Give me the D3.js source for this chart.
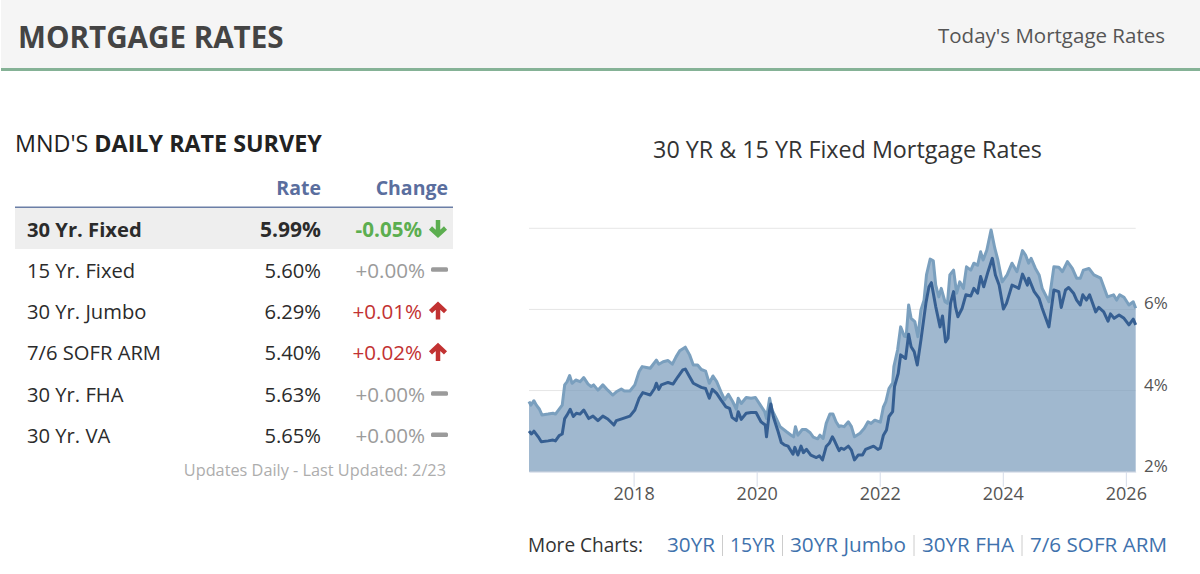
<!DOCTYPE html>
<html>
<head>
<meta charset="utf-8">
<script src="https://cdn.jsdelivr.net/npm/d3@7"></script>
<style>
  html, body { margin: 0; padding: 0; background: #fff; overflow: hidden; }
  text { font-family: "Open Sans", "Noto Sans", sans-serif; }
</style>
</head>
<body>
<svg id="page" width="1200" height="574"></svg>
<script>
// table data
const surveyLabels = ["30 Yr. Fixed", "15 Yr. Fixed", "30 Yr. Jumbo", "7/6 SOFR ARM", "30 Yr. FHA", "30 Yr. VA"];
const surveyRates = ["5.99%", "5.60%", "6.29%", "5.40%", "5.63%", "5.65%"];
const surveyChanges = ["-0.05%", "+0.00%", "+0.01%", "+0.02%", "+0.00%", "+0.00%"];
const moreLinks = ["30YR", "15YR", "30YR Jumbo", "30YR FHA", "7/6 SOFR ARM"];

// chart data (decimal year, percent)
const yearTicks = [2018, 2020, 2022, 2024, 2026];
const rateTicks = [2, 4, 6, 8];

const dates30 = [2016.30,2016.33,2016.38,2016.42,2016.47,2016.51,2016.61,2016.69,2016.73,2016.80,2016.84,2016.88,2016.92,2016.96,2017.00,2017.06,2017.13,2017.19,2017.26,2017.31,2017.35,2017.42,2017.50,2017.58,2017.66,2017.72,2017.80,2017.85,2017.94,2018.02,2018.09,2018.14,2018.21,2018.27,2018.31,2018.37,2018.41,2018.48,2018.56,2018.63,2018.69,2018.75,2018.84,2018.91,2018.97,2019.04,2019.10,2019.17,2019.23,2019.29,2019.35,2019.42,2019.48,2019.54,2019.61,2019.67,2019.70,2019.75,2019.83,2019.91,2019.98,2020.06,2020.13,2020.16,2020.21,2020.25,2020.32,2020.38,2020.48,2020.56,2020.60,2020.63,2020.67,2020.74,2020.80,2020.87,2020.92,2020.99,2021.03,2021.08,2021.13,2021.19,2021.24,2021.29,2021.34,
  2021.37,2021.42,2021.49,2021.54,2021.59,2021.68,2021.75,2021.81,2021.86,2021.92,2022.01,2022.06,2022.10,2022.15,2022.21,2022.23,2022.29,2022.34,2022.40,2022.43,2022.47,2022.51,2022.57,2022.62,2022.67,2022.72,2022.76,2022.82,2022.87,2022.91,2022.96,2023.00,2023.06,2023.10,2023.14,2023.20,2023.25,2023.30,2023.36,2023.41,2023.48,2023.53,2023.59,2023.64,2023.68,2023.74,2023.81,2023.87,2023.92,2023.99,2024.07,2024.15,2024.23,2024.32,2024.37,2024.42,2024.46,2024.53,2024.59,2024.64,2024.75,2024.83,2024.91,2024.97,2025.05,2025.13,2025.20,2025.26,2025.31,2025.40,2025.48,2025.59,2025.70,2025.80,2025.85,2025.90,2025.97,2026.05,2026.12,2026.16];
const rates30 = [3.73,3.64,3.75,3.64,3.54,3.40,3.42,3.44,3.42,3.56,3.64,4.14,4.22,4.37,4.18,4.26,4.22,4.32,4.16,4.10,4.14,4.01,4.14,4.01,3.89,3.97,4.04,3.99,3.99,4.14,4.47,4.59,4.57,4.55,4.63,4.75,4.65,4.71,4.74,4.65,4.83,4.98,5.07,4.88,4.63,4.63,4.52,4.48,4.18,4.36,4.22,3.97,3.77,3.91,3.73,3.54,3.81,3.68,3.83,3.81,3.83,3.64,3.48,3.31,3.81,3.52,3.31,3.11,2.99,2.90,2.86,3.11,2.90,3.04,3.04,2.96,2.85,2.81,2.90,2.82,3.19,3.42,3.42,3.23,3.11,
  3.13,3.11,3.23,3.11,2.86,2.95,3.07,3.23,3.19,3.27,3.22,3.60,3.73,4.05,4.19,4.59,5.00,5.57,5.34,5.33,6.11,5.78,5.70,5.33,5.99,6.23,6.85,7.24,7.20,6.60,6.31,6.52,6.19,6.15,6.85,6.97,6.40,6.68,6.52,7.05,6.97,7.14,7.09,7.42,7.22,7.46,7.96,7.51,7.22,6.68,6.85,7.14,6.93,7.45,7.34,7.14,7.26,7.01,6.85,6.52,6.19,7.05,7.04,6.93,7.18,7.01,6.77,6.77,6.97,7.01,6.85,6.77,6.31,6.36,6.23,6.36,6.30,6.11,6.19,6.03];

const dates15 = [2016.30,2016.34,2016.38,2016.45,2016.50,2016.61,2016.69,2016.73,2016.79,2016.84,2016.88,2016.92,2016.97,2017.02,2017.07,2017.13,2017.19,2017.27,2017.34,2017.42,2017.50,2017.58,2017.68,2017.72,2017.82,2017.94,2018.02,2018.09,2018.15,2018.27,2018.34,2018.37,2018.41,2018.45,2018.56,2018.64,2018.72,2018.80,2018.84,2018.91,2018.97,2019.10,2019.17,2019.23,2019.28,2019.35,2019.42,2019.50,2019.56,2019.60,2019.67,2019.70,2019.75,2019.83,2019.91,2019.99,2020.07,2020.14,2020.16,2020.21,2020.23,2020.27,2020.34,2020.40,2020.45,2020.51,2020.59,2020.62,2020.67,2020.72,2020.76,2020.81,2020.88,2020.97,2021.02,2021.07,2021.13,2021.18,2021.23,2021.26,2021.32,2021.34,
  2021.37,2021.42,2021.49,2021.54,2021.59,2021.65,2021.72,2021.77,2021.85,2021.90,2021.97,2022.01,2022.06,2022.11,2022.15,2022.21,2022.24,2022.30,2022.34,2022.42,2022.47,2022.51,2022.56,2022.61,2022.67,2022.75,2022.80,2022.84,2022.91,2022.98,2023.02,2023.07,2023.11,2023.15,2023.20,2023.23,2023.27,2023.34,2023.40,2023.48,2023.53,2023.59,2023.64,2023.69,2023.76,2023.83,2023.88,2023.94,2024.01,2024.06,2024.15,2024.26,2024.32,2024.35,2024.40,2024.42,2024.51,2024.59,2024.64,2024.69,2024.75,2024.83,2024.91,2024.95,2025.02,2025.07,2025.15,2025.20,2025.26,2025.30,2025.36,2025.41,2025.51,2025.56,2025.64,2025.71,2025.75,2025.81,2025.89,2025.97,2026.05,2026.12,2026.16];
const rates15 = [3.00,2.93,3.00,2.86,2.74,2.76,2.78,2.76,2.89,2.93,3.31,3.40,3.54,3.36,3.44,3.42,3.52,3.31,3.37,3.26,3.37,3.30,3.15,3.26,3.31,3.37,3.52,3.81,3.95,3.89,4.05,4.18,4.03,4.14,4.20,4.16,4.34,4.51,4.53,4.34,4.18,4.08,4.05,3.81,4.03,3.93,3.77,3.60,3.56,3.34,3.26,3.48,3.29,3.44,3.46,3.46,3.23,3.15,2.86,3.52,3.67,3.36,3.03,2.72,2.66,2.63,2.43,2.60,2.41,2.63,2.47,2.55,2.41,2.35,2.39,2.29,2.62,2.70,2.86,2.78,2.58,2.52,
  2.58,2.55,2.63,2.53,2.29,2.41,2.41,2.55,2.60,2.63,2.55,2.58,2.90,3.03,3.36,3.48,4.10,4.42,4.88,4.79,5.39,5.08,4.96,4.63,5.25,6.15,6.56,6.66,6.07,5.57,5.84,5.20,5.29,6.15,6.44,6.07,5.82,6.03,6.36,6.33,6.52,6.40,6.81,6.56,6.93,7.26,6.85,6.60,6.01,6.15,6.60,6.52,6.87,6.77,6.60,6.77,6.44,6.27,6.03,5.82,5.57,6.48,6.44,6.05,6.48,6.54,6.40,6.23,6.11,6.36,6.23,6.36,5.94,6.05,5.94,5.71,5.89,5.78,5.86,5.78,5.62,5.76,5.62];

const series30 = dates30.map((d, i) => ({ date: d, rate: rates30[i] }));
const series15 = dates15.map((d, i) => ({ date: d, rate: rates15[i] }));

const svg = d3.select("#page");

//~~~~~~~~~~~~~~~~~~~~~~~~~~~~~~~~~~~~~~~~~~~~~~~~~~~~~~~~~~~~~~~~
// page header
svg.append("rect").attr("x", 1).attr("y", 0).attr("width", 1199).attr("height", 68).attr("fill", "#f5f5f5");
svg.append("rect").attr("x", 1).attr("y", 68).attr("width", 1199).attr("height", 3).attr("fill", "#85b296");
svg.append("text").attr("x", 18).attr("y", 48)
    .style("font-size", "29.6px").style("font-weight", 700).attr("fill", "#444")
    .text("MORTGAGE RATES");
svg.append("text").attr("x", 1165).attr("y", 43).attr("text-anchor", "end")
    .style("font-size", "20.5px").attr("fill", "#555")
    .text("Today's Mortgage Rates");

//~~~~~~~~~~~~~~~~~~~~~~~~~~~~~~~~~~~~~~~~~~~~~~~~~~~~~~~~~~~~~~~~
// rate table
const tableTitle = svg.append("text").attr("x", 15).attr("y", 152)
    .style("font-size", "23.3px").attr("fill", "#222");
tableTitle.append("tspan").text("MND'S ");
tableTitle.append("tspan").style("font-weight", 700).text("DAILY RATE SURVEY");

svg.append("text").attr("x", 321).attr("y", 194.5).attr("text-anchor", "end")
    .style("font-size", "19.5px").style("font-weight", 700).attr("fill", "#5a6e9e").text("Rate");
svg.append("text").attr("x", 448).attr("y", 194.5).attr("text-anchor", "end")
    .style("font-size", "19.5px").style("font-weight", 700).attr("fill", "#5a6e9e").text("Change");

svg.append("rect").attr("x", 15).attr("y", 208).attr("width", 438).attr("height", 41).attr("fill", "#eeeeee");
svg.append("rect").attr("x", 15).attr("y", 206.5).attr("width", 438).attr("height", 1.5).attr("fill", "#6b7ea6");

const rowY = d3.scalePoint().domain(surveyLabels).range([236.5, 443]);

const changeColor = c => c.startsWith("-") ? "#5cae50" : (c === "+0.00%" ? "#9b9b9b" : "#c23232");

const rows = svg.selectAll("g.row")
    .data(surveyLabels)
    .enter()
    .append("g")
    .attr("class", "row")
    .attr("transform", d => "translate(0," + rowY(d) + ")");

rows.append("text").attr("x", 27)
    .style("font-size", "20.2px").style("font-weight", (d, i) => i === 0 ? 700 : 400).attr("fill", "#2b2b2b")
    .text(d => d);
rows.append("text").attr("x", 321).attr("text-anchor", "end")
    .style("font-size", (d, i) => i === 0 ? "21px" : "20.2px").style("font-weight", (d, i) => i === 0 ? 700 : 400).attr("fill", "#2b2b2b")
    .text((d, i) => surveyRates[i]);
rows.append("text").attr("x", (d, i) => surveyChanges[i] === "+0.00%" ? 425 : 422).attr("text-anchor", "end")
    .style("font-size", "20.6px").style("font-weight", (d, i) => i === 0 ? 700 : 400)
    .attr("fill", (d, i) => changeColor(surveyChanges[i]))
    .text((d, i) => surveyChanges[i]);

// little arrow / dash icons
rows.each(function (d, i) {
    const c = surveyChanges[i], g = d3.select(this), col = changeColor(c);
    if (c === "+0.00%") {
        g.append("rect").attr("x", 431).attr("y", -10.5).attr("width", 17).attr("height", 4.5).attr("rx", 1.5).attr("fill", col);
    } else {
        const up = !c.startsWith("-");
        g.append("path")
            .attr("d", "M-7.5,0.5 L0,-6.5 L7.5,0.5 M0,-6 L0,8.5")
            .attr("transform", "translate(438,-8)" + (up ? "" : " scale(1,-1)"))
            .attr("fill", "none").attr("stroke", col).attr("stroke-width", 4.5);
    }
});

svg.append("text").attr("x", 446).attr("y", 476).attr("text-anchor", "end")
    .style("font-size", "16.3px").attr("fill", "#adadad")
    .text("Updates Daily - Last Updated: 2/23");

//~~~~~~~~~~~~~~~~~~~~~~~~~~~~~~~~~~~~~~~~~~~~~~~~~~~~~~~~~~~~~~~~
// area chart
svg.append("text").attr("x", 847.5).attr("y", 158).attr("text-anchor", "middle")
    .style("font-size", "23.3px").attr("fill", "#333")
    .text("30 YR & 15 YR Fixed Mortgage Rates");

const x = d3.scaleLinear().domain([2016.30, 2026.16]).range([529, 1135.7]);
const y = d3.scaleLinear().domain([2, 8]).range([471.7, 228.3]);

// gridlines
svg.append("g").selectAll("line")
    .data(rateTicks)
    .enter()
    .append("line")
    .attr("x1", 529).attr("x2", 1135.7)
    .attr("y1", d => y(d)).attr("y2", d => y(d))
    .attr("stroke", "#e6e6e6").attr("stroke-width", 1);

const area = d3.area().x(d => x(d.date)).y0(y(2)).y1(d => y(d.rate));
const line = d3.line().x(d => x(d.date)).y(d => y(d.rate));

svg.append("path").datum(series30).attr("d", area)
    .attr("fill", "#779aba").attr("fill-opacity", 0.7);

svg.append("path").datum(series30).attr("d", line)
    .attr("fill", "none").attr("stroke", "#7a9fbe").attr("stroke-width", 3).attr("stroke-linejoin", "round");
svg.append("path").datum(series15).attr("d", line)
    .attr("fill", "none").attr("stroke", "#365f92").attr("stroke-width", 3).attr("stroke-linejoin", "round");

// x axis
const xAxis = svg.append("g")
    .attr("transform", "translate(0," + y(2) + ")")
    .call(d3.axisBottom(x).tickValues(yearTicks).tickFormat(d3.format("d")).tickSize(15).tickSizeOuter(0).tickPadding(0));
xAxis.select(".domain").attr("stroke", "#d5dce9");
xAxis.selectAll(".tick line").attr("stroke", "#d5dce9");
xAxis.selectAll(".tick text").attr("y", 28.5).attr("dy", 0)
    .style("font-size", "18px").attr("fill", "#555");

// y axis
const yAxis = svg.append("g")
    .attr("transform", "translate(1144,0)")
    .call(d3.axisRight(y).tickValues(rateTicks.slice(0, 3)).tickFormat(d => d + "%").tickSize(0).tickPadding(0));
yAxis.select(".domain").remove();
yAxis.selectAll(".tick text").attr("x", 0).attr("dy", -0.5)
    .style("font-size", "17px").attr("fill", "#555");

//~~~~~~~~~~~~~~~~~~~~~~~~~~~~~~~~~~~~~~~~~~~~~~~~~~~~~~~~~~~~~~~~
// more charts links
svg.append("text").attr("x", 528).attr("y", 552)
    .attr("textLength", 115).attr("lengthAdjust", "spacingAndGlyphs")
    .style("font-size", "20.5px").attr("fill", "#333").text("More Charts:");

const linkX = [667, 730, 790, 922, 1030];
const linkEnd = [715, 775, 906, 1014, 1167];
svg.selectAll("text.link")
    .data(moreLinks)
    .enter()
    .append("text")
    .attr("class", "link")
    .attr("x", (d, i) => linkX[i]).attr("y", 552)
    .attr("textLength", (d, i) => linkEnd[i] - linkX[i])
    .attr("lengthAdjust", "spacingAndGlyphs")
    .style("font-size", "20.5px").attr("fill", "#3f72ad")
    .text(d => d);
svg.selectAll("line.sep")
    .data(linkX.slice(1))
    .enter()
    .append("line")
    .attr("class", "sep")
    .attr("x1", (d, i) => (linkEnd[i] + d) / 2).attr("x2", (d, i) => (linkEnd[i] + d) / 2)
    .attr("y1", 535).attr("y2", 556)
    .attr("stroke", "#ccc").attr("stroke-width", 1);
</script>
</body>
</html>
